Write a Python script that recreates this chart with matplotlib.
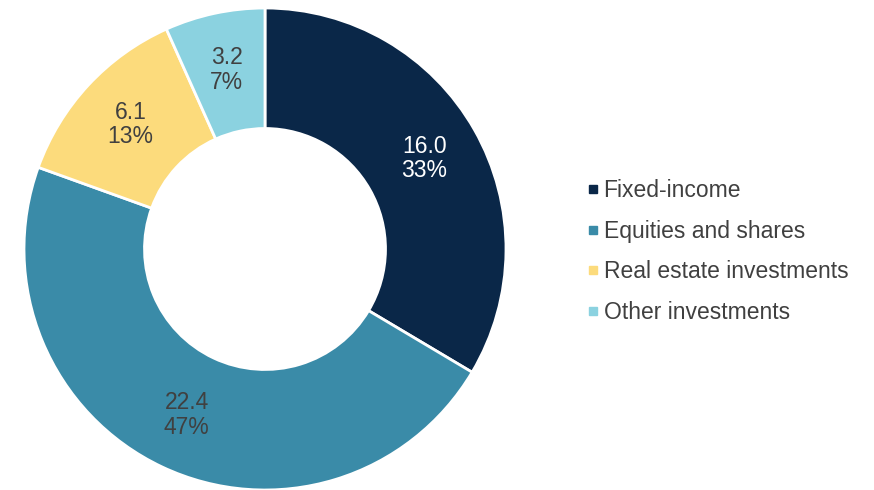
import numpy as np
import matplotlib.pyplot as plt
from matplotlib.lines import Line2D

plt.rcParams['font.family'] = ['Liberation Sans', 'DejaVu Sans']

categories = ["Fixed-income", "Equities and shares", "Real estate investments", "Other investments"]
values = [16.0, 22.4, 6.1, 3.2]
percents = [33, 47, 13, 7]
colors = ["#0a2748", "#3a8ba8", "#fcdb7c", "#8bd2e0"]
text_colors = ["white", "#404040", "#404040", "#404040"]

fig = plt.figure(figsize=(8.74, 4.9), dpi=100)
W, H = 874, 490
cx, cy, r = 265, 241, 241
ax = fig.add_axes([(cx - r) / W, (cy - r) / H, 2 * r / W, 2 * r / H])

wedges, _ = ax.pie(values, colors=colors, startangle=90, counterclock=False,
                   radius=1.0, wedgeprops=dict(width=0.5, edgecolor="white", linewidth=2))

# value / share labels at the middle of each ring segment
total = sum(values)
start = 90.0
for v, p, tc in zip(values, percents, text_colors):
    sweep = v / total * 360
    mid = np.deg2rad(start - sweep / 2)
    start -= sweep
    ax.text(0.76 * np.cos(mid), 0.76 * np.sin(mid), f"{v:.1f}\n{p}%",
            ha="center", va="center", fontsize=16.5, color=tc, linespacing=1.1)

ax.set_xlim(-1, 1)
ax.set_ylim(-1, 1)
ax.set_aspect("equal")
ax.axis("off")

handles = [Line2D([], [], marker="s", linestyle="none", markersize=6,
                  markerfacecolor=c, markeredgecolor=c) for c in colors]
fig.legend(handles, categories, loc="center left", bbox_to_anchor=(587.5 / W, 1 - 251.5 / H),
           frameon=False, fontsize=16.5, handlelength=0.5, handletextpad=0.2,
           borderpad=0, borderaxespad=0, labelspacing=0.78, labelcolor="#404040")

fig.savefig("out.png", dpi=100)
